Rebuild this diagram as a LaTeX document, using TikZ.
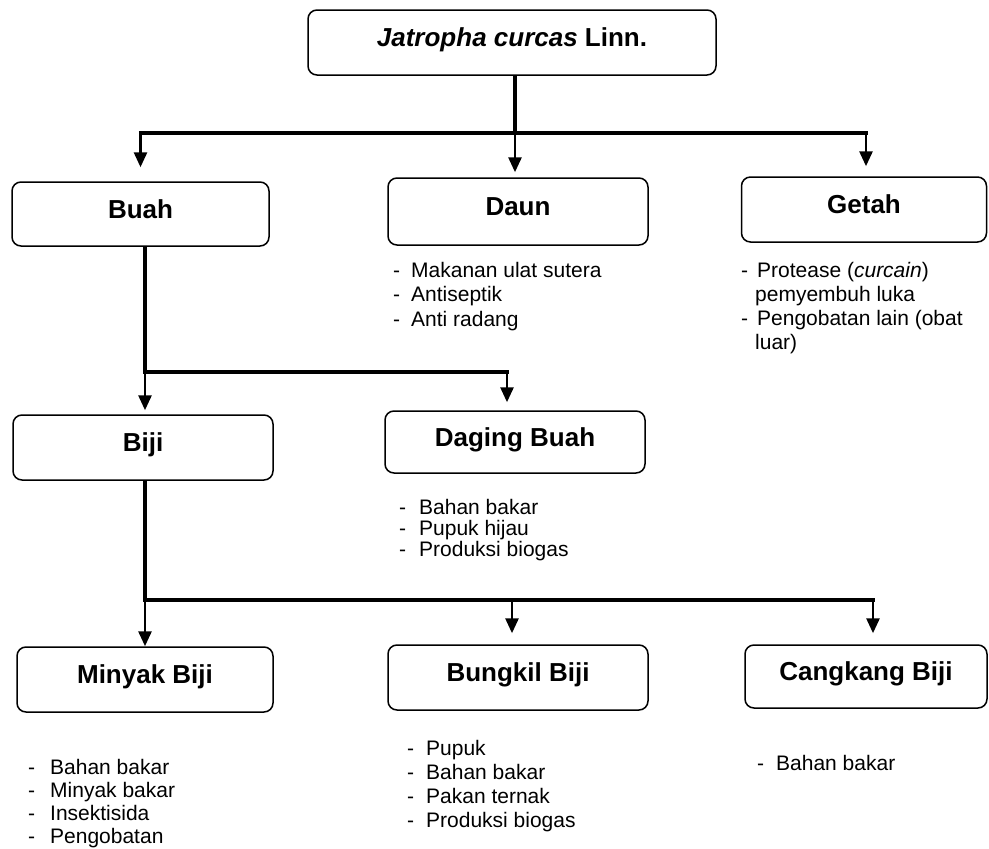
\documentclass[tikz,border=0pt]{standalone}
\usepackage{fontspec}
\setmainfont{Liberation Sans}
\usetikzlibrary{arrows.meta}
\begin{document}
\begin{tikzpicture}[x=1pt,y=-1pt,
  partbox/.style={draw, line width=1.5pt, rounded corners=9pt, inner sep=0pt,
    text height=18pt, text depth=10pt,
    font=\bfseries\fontsize{26}{29}\selectfont},
  uselist/.style={anchor=base west, inner sep=0pt, align=left,
    font=\fontsize{21}{#1}\selectfont},
  bar/.style={line width=4.4pt},
  stem/.style={line width=3.2pt},
  branch/.style={line width=2.8pt, -{Triangle[length=15pt,width=13pt]}},
]
\useasboundingbox (0,0) rectangle (989,849);

% boxes
\node[partbox, minimum width=408pt, minimum height=65pt] (top) at (512,42.5)
  {\textit{Jatropha curcas} Linn.};
\node[partbox, minimum width=257pt, minimum height=64pt] (buah) at (140.5,214) {Buah};
\node[partbox, minimum width=260pt, minimum height=67pt] (daun) at (518,211.5) {Daun};
\node[partbox, minimum width=245pt, minimum height=65pt] (getah) at (864,209.5) {Getah};
\node[partbox, minimum width=260pt, minimum height=65pt] (biji) at (143,447.5) {Biji};
\node[partbox, minimum width=260pt, minimum height=62pt] (daging) at (515,442) {Daging Buah};
\node[partbox, minimum width=256pt, minimum height=65pt] (minyak) at (145,679.5) {Minyak Biji};
\node[partbox, minimum width=260pt, minimum height=65pt] (bungkil) at (518,677.5) {Bungkil Biji};
\node[partbox, minimum width=242pt, minimum height=63pt] (cangkang) at (866,676.5) {Cangkang Biji};

% lists of uses
\node[uselist=24.5] (daunlist) at (393,277) {\begin{tabular}[t]{@{}l@{\hspace{11pt}}l@{}}
  - & Makanan ulat sutera\\ - & Antiseptik\\ - & Anti radang\end{tabular}};
\node[uselist=24.3] (getahlist) at (741,277) {\begin{tabular}[t]{@{}l@{\hspace{9pt}}l@{}}
  - & Protease (\textit{curcain})\\ & \hspace{-2pt}pemyembuh luka\\
  - & Pengobatan lain (obat\\ & \hspace{-2pt}luar)\end{tabular}};
\node[uselist=20.5] (daginglist) at (399,514) {\begin{tabular}[t]{@{}l@{\hspace{13pt}}l@{}}
  - & Bahan bakar\\ - & Pupuk hijau\\ - & Produksi biogas\end{tabular}};
\node[uselist=23] (minyaklist) at (28,774) {\begin{tabular}[t]{@{}l@{\hspace{15pt}}l@{}}
  - & Bahan bakar\\ - & Minyak bakar\\ - & Insektisida\\ - & Pengobatan\end{tabular}};
\node[uselist=24] (bungkillist) at (407,755) {\begin{tabular}[t]{@{}l@{\hspace{12pt}}l@{}}
  - & Pupuk\\ - & Bahan bakar\\ - & Pakan ternak\\ - & Produksi biogas\end{tabular}};
\node[uselist=24] (cangkanglist) at (757,770) {\begin{tabular}[t]{@{}l@{\hspace{12pt}}l@{}}
  - & Bahan bakar\end{tabular}};

% junction points
\coordinate (j1) at (515,133);
\coordinate (j1l) at (140.5,133);
\coordinate (j1r) at (866,133);
\coordinate (j2) at (145,372);
\coordinate (j2r) at (507,372);
\coordinate (j3) at (145,600);
\coordinate (j3m) at (512,600);
\coordinate (j3r) at (873,600);

% first level
\draw[stem] (top.south -| j1) -- (j1);
\draw[bar] ([xshift=-1.6pt]j1l) -- ([xshift=1.6pt]j1r);
\draw[branch, shorten >=14pt] (j1l) -- (j1l |- buah.north);
\draw[branch, shorten >=5pt] (j1) -- (j1 |- daun.north);
\draw[branch, shorten >=10pt] (j1r) -- (j1r |- getah.north);

% fruit
\draw[stem] (buah.south -| j2) -- (j2);
\draw[bar] ([xshift=-1.6pt]j2) -- ([xshift=1.6pt]j2r);
\draw[branch, shorten >=4pt] (j2) -- (j2 |- biji.north);
\draw[branch, shorten >=8pt] (j2r) -- (j2r |- daging.north);

% seed
\draw[stem] (biji.south -| j3) -- (j3);
\draw[bar] ([xshift=-1.6pt]j3) -- ([xshift=1.6pt]j3r);
\draw[branch] (j3) -- (j3 |- minyak.north);
\draw[branch, shorten >=11pt] (j3m) -- (j3m |- bungkil.north);
\draw[branch, shorten >=11pt] (j3r) -- (j3r |- cangkang.north);
\end{tikzpicture}
\end{document}
